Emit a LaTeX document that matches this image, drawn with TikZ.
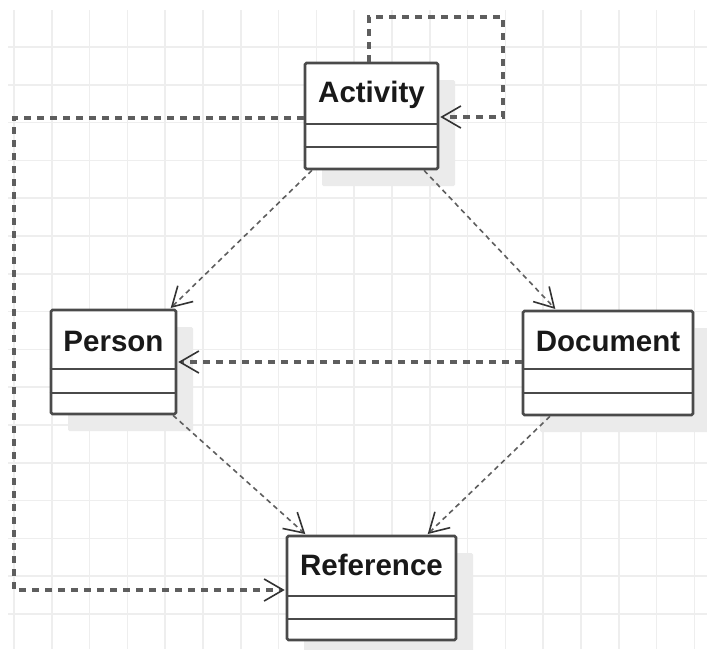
\documentclass[tikz,border=0pt]{standalone}
\usepackage{fontspec}
\setmainfont{Liberation Sans}
\usetikzlibrary{arrows.meta,shadows}
\definecolor{gridc}{HTML}{EEEEEE}
\definecolor{boxc}{HTML}{4A4A4A}
\definecolor{dashc}{HTML}{5E5E5E}
\definecolor{shadc}{HTML}{EBEBEB}
\begin{document}
\begin{tikzpicture}[x=1pt,y=-1pt,
  gridline/.style={draw=gridc, line width=1.5pt},
  umlbox/.style={draw=boxc, line width=2.6pt, fill=white, rounded corners=1.5pt, inner sep=0pt,
    drop shadow={shadow xshift=17pt, shadow yshift=-17pt, fill=shadc, opacity=1}},
  umldiv/.style={draw=boxc, line width=2.6pt},
  umltitle/.style={font=\fontsize{29.5}{35}\selectfont\bfseries, text=black!90, inner sep=0pt, anchor=base},
  >={Straight Barb[length=19pt,width=22pt,line width=1.6pt,color=black!80]},
  thickdep/.style={draw=dashc, line width=3.4pt, dash pattern=on 7pt off 6pt, ->, shorten >=1pt},
  thindep/.style={draw=dashc, line width=1.6pt, dash pattern=on 5pt off 4pt, ->, shorten >=1pt}
]
\useasboundingbox (0,0) rectangle (707,649);
\fill[white] (0,0) rectangle (707,649);
% grid
\foreach \i in {0,...,18} \draw[gridline] ({14+37.8*\i},10) -- ({14+37.8*\i},649);
\foreach \j in {1,...,16} \draw[gridline] (8,{9.2+37.8*\j}) -- (707,{9.2+37.8*\j});

% classes
\node[umlbox, minimum width=133pt, minimum height=106pt] (act) at (371.5,116) {};
\node[umltitle] (actT) at (371.5,102) {Activity};
\draw[umldiv] (act.west |- 0,124) -- (act.east |- 0,124);
\draw[umldiv] (act.west |- 0,147) -- (act.east |- 0,147);

\node[umlbox, minimum width=125pt, minimum height=104pt] (per) at (113.5,362) {};
\node[umltitle] (perT) at (113.5,351) {Person};
\draw[umldiv] (per.west |- 0,369) -- (per.east |- 0,369);
\draw[umldiv] (per.west |- 0,393) -- (per.east |- 0,393);

\node[umlbox, minimum width=170pt, minimum height=104pt] (doc) at (608,363) {};
\node[umltitle] (docT) at (608,351) {Document};
\draw[umldiv] (doc.west |- 0,369) -- (doc.east |- 0,369);
\draw[umldiv] (doc.west |- 0,393) -- (doc.east |- 0,393);

\node[umlbox, minimum width=169pt, minimum height=104pt] (ref) at (371.5,588) {};
\node[umltitle] (refT) at (371.5,575) {Reference};
\draw[umldiv] (ref.west |- 0,596) -- (ref.east |- 0,596);
\draw[umldiv] (ref.west |- 0,619) -- (ref.east |- 0,619);

% connectors
\coordinate (la) at (369,17);
\coordinate (lb) at (503,17);
\coordinate (lc) at (503,117);
\draw[thickdep] (act.north -| la) -- (la) -- (lb) -- (lc) -- (act.east |- lc);

\coordinate (ma) at (14,118);
\coordinate (mb) at (14,590);
\draw[thickdep] (act.west |- ma) -- (ma) -- (mb) -- (ref.west |- mb);

\coordinate (hm) at (350,362);
\draw[thickdep] (doc.west |- hm) -- (per.east |- hm);

\coordinate (d1) at (312,0);
\coordinate (d2) at (170,0);
\coordinate (d3) at (424,0);
\coordinate (d4) at (556,0);
\coordinate (d5) at (173,0);
\coordinate (d6) at (306,0);
\coordinate (d7) at (550,0);
\coordinate (d8) at (427,0);
\draw[thindep] (act.south -| d1) -- (per.north -| d2);
\draw[thindep] (act.south -| d3) -- (doc.north -| d4);
\draw[thindep] (per.south -| d5) -- (ref.north -| d6);
\draw[thindep] (doc.south -| d7) -- (ref.north -| d8);
\end{tikzpicture}
\end{document}
